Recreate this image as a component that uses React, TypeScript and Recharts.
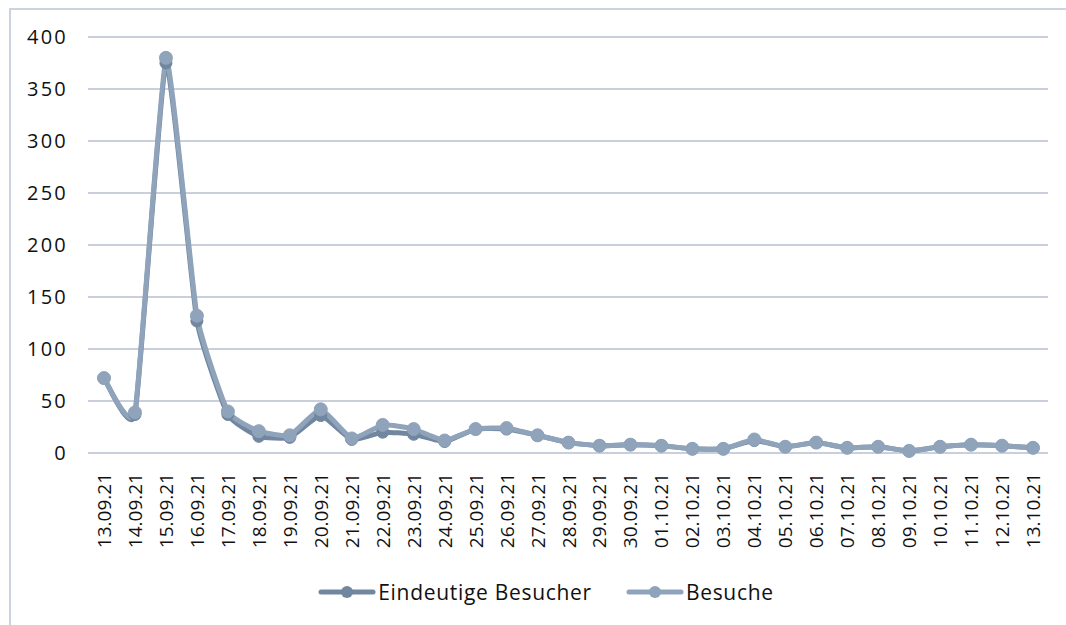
import { CartesianGrid, Line, LineChart, XAxis, YAxis } from 'recharts'

const dates = [
  '13.09.21', '14.09.21', '15.09.21', '16.09.21', '17.09.21', '18.09.21', '19.09.21', '20.09.21',
  '21.09.21', '22.09.21', '23.09.21', '24.09.21', '25.09.21', '26.09.21', '27.09.21', '28.09.21',
  '29.09.21', '30.09.21', '01.10.21', '02.10.21', '03.10.21', '04.10.21', '05.10.21', '06.10.21',
  '07.10.21', '08.10.21', '09.10.21', '10.10.21', '11.10.21', '12.10.21', '13.10.21',
]
const eindeutige = [72, 37, 375, 127, 37, 16, 15, 36, 13, 20, 18, 11, 23, 23, 17, 10, 7, 8, 7, 4, 4, 12, 6, 10, 5, 6, 2, 6, 8, 7, 5]
const besuche = [72, 39, 380, 132, 40, 21, 17, 42, 14, 27, 23, 12, 23, 24, 17, 10, 7, 8, 7, 4, 4, 13, 6, 10, 5, 6, 2, 6, 8, 7, 5]
const yTicks = [0, 50, 100, 150, 200, 250, 300, 350, 400]

const data = dates.map((d, i) => ({ date: d, eindeutige: eindeutige[i], besuche: besuche[i] }))

const darkColor = '#71879f'
const lightColor = '#8fa3bb'
const font = "'Open Sans', sans-serif"

// light catmull-rom style smoothing, closer to the spreadsheet look than monotone
function smoothCurve(context: any) {
  let pts: number[][] = []
  const k = 0.07
  return {
    areaStart() {},
    areaEnd() {},
    lineStart() {
      pts = []
    },
    point(x: number, y: number) {
      pts.push([+x, +y])
    },
    lineEnd() {
      if (!pts.length) return
      context.moveTo(pts[0][0], pts[0][1])
      for (let i = 0; i < pts.length - 1; i++) {
        const p0 = pts[i - 1] || pts[i]
        const p1 = pts[i]
        const p2 = pts[i + 1]
        const p3 = pts[i + 2] || p2
        context.bezierCurveTo(
          p1[0] + (p2[0] - p0[0]) * k,
          p1[1] + (p2[1] - p0[1]) * k,
          p2[0] - (p3[0] - p1[0]) * k,
          p2[1] - (p3[1] - p1[1]) * k,
          p2[0],
          p2[1],
        )
      }
    },
  }
}

function DateTick(props: any) {
  const { x, y, payload } = props
  return (
    <text
      x={x}
      y={y + 12}
      transform={`rotate(-90, ${x}, ${y + 12})`}
      textAnchor='end'
      dominantBaseline='central'
      fontSize={19}
      fontFamily={font}
      fill='#111'
    >
      {payload.value}
    </text>
  )
}

function ChartLegend() {
  const items = [
    { label: 'Eindeutige Besucher', color: darkColor },
    { label: 'Besuche', color: lightColor },
  ]
  return (
    <div
      style={{
        position: 'absolute',
        left: 0,
        top: 578,
        width: 1092,
        display: 'flex',
        justifyContent: 'center',
        gap: 34,
        fontFamily: font,
        fontSize: 21,
        letterSpacing: 0.7,
        color: '#111',
      }}
    >
      {items.map((it) => (
        <div key={it.label} style={{ display: 'flex', alignItems: 'center' }}>
          <svg width={58} height={16}>
            <line x1={3} y1={8} x2={55} y2={8} stroke={it.color} strokeWidth={5} strokeLinecap='round' />
            <circle cx={29} cy={8} r={6} fill={it.color} />
          </svg>
          <span style={{ marginLeft: 2 }}>{it.label}</span>
        </div>
      ))}
    </div>
  )
}

export default function App() {
  return (
    <div style={{ position: 'fixed', left: 0, top: 0, width: 1066, height: 625, background: '#fff', overflow: 'hidden' }}>
      <div style={{ position: 'absolute', left: 9, top: 8, width: 1100, height: 700, border: '2px solid #ccd3df' }} />
      <div style={{ position: 'absolute', left: 0, top: 0 }}>
        <LineChart width={1066} height={625} data={data} margin={{ top: 37, right: 18, left: 0, bottom: 72 }}>
          <CartesianGrid vertical={false} stroke='#c9d0dc' strokeWidth={2} />
          <XAxis
            dataKey='date'
            axisLine={false}
            tickLine={false}
            interval={0}
            height={100}
            padding={{ left: 16, right: 15 }}
            tick={<DateTick />}
          />
          <YAxis
            domain={[0, 400]}
            ticks={yTicks}
            axisLine={false}
            tickLine={false}
            tickSize={0}
            tickMargin={20}
            width={88}
            tick={{ fontSize: 20, fontFamily: font, fill: '#111', letterSpacing: 2.2 }}
          />
          <Line
            type={smoothCurve as any}
            dataKey='eindeutige'
            name='Eindeutige Besucher'
            stroke={darkColor}
            strokeWidth={5}
            dot={{ r: 6, fill: darkColor, stroke: darkColor, strokeWidth: 1 }}
            isAnimationActive={false}
          />
          <Line
            type={smoothCurve as any}
            dataKey='besuche'
            name='Besuche'
            stroke={lightColor}
            strokeWidth={5}
            dot={{ r: 6.5, fill: lightColor, stroke: lightColor, strokeWidth: 1 }}
            isAnimationActive={false}
          />
        </LineChart>
      </div>
      <ChartLegend />
    </div>
  )
}
